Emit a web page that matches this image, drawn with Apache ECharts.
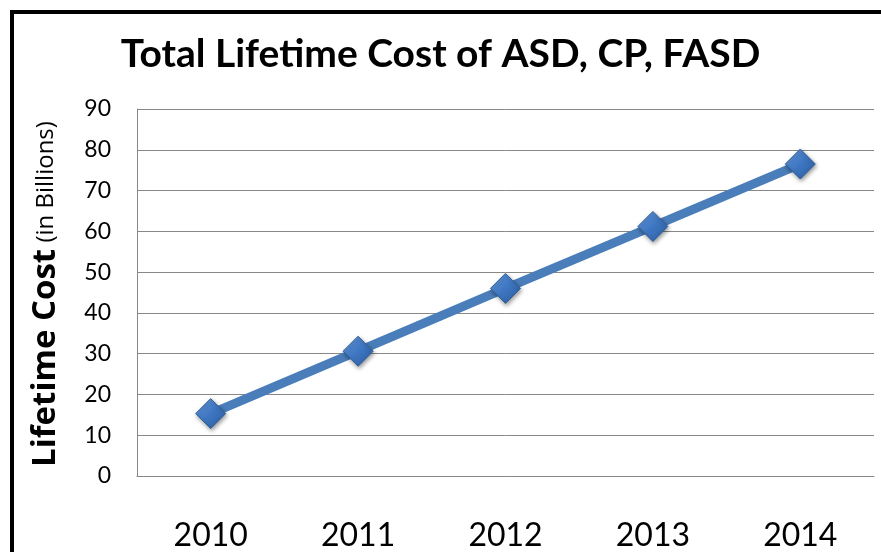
<!DOCTYPE html>
<html>
<head>
<meta charset="utf-8">
<script src="https://cdn.jsdelivr.net/npm/echarts@6/dist/echarts.min.js"></script>
<style>
  html, body { margin: 0; padding: 0; background: #fff; }
  #chart { width: 881px; height: 552px; }
</style>
</head>
<body>
<div id="chart"></div>
<script>
var years = ['2010', '2011', '2012', '2013', '2014'];
var lifetimeCost = [15.3, 30.6, 46.0, 61.2, 76.5];
var yTicks = { min: 0, max: 90, interval: 10 };

var chart = echarts.init(document.getElementById('chart'));
var fontFamily = 'Lato';
var nameFont = '"Open Sans"';

var option = {
  backgroundColor: '#fff',
  animation: false,
  title: {
    text: 'Total Lifetime Cost of ASD, CP, FASD',
    left: 'center',
    top: 30,
    textStyle: { fontFamily: fontFamily, fontSize: 39, fontWeight: 'bold', color: '#000' }
  },
  graphic: [{
    type: 'rect',
    shape: { x: 12, y: 12, width: 900, height: 600 },
    style: { fill: 'none', stroke: '#000', lineWidth: 4 },
    silent: true
  }, {
    // y axis title, bold part plus regular part
    type: 'text',
    x: 46,
    y: 294,
    rotation: Math.PI / 2,
    silent: true,
    style: {
      text: '{b|Lifetime Cost}{n| (in Billions)}',
      align: 'center',
      verticalAlign: 'middle',
      rich: {
        b: { fontFamily: nameFont, fontSize: 33, fontWeight: 'bold', fill: '#000' },
        n: { fontFamily: nameFont, fontSize: 24, fill: '#000' }
      }
    }
  }],
  grid: { left: 137, top: 109, width: 737, height: 367, containLabel: false },
  xAxis: {
    type: 'category',
    data: years,
    axisLine: { show: true, lineStyle: { color: '#888', width: 1 } },
    axisTick: { show: false },
    axisLabel: { fontFamily: fontFamily, fontSize: 32, color: '#000', margin: 44 }
  },
  yAxis: {
    type: 'value',
    min: yTicks.min,
    max: yTicks.max,
    interval: yTicks.interval,
    axisLine: { show: true, lineStyle: { color: '#888', width: 1 } },
    axisTick: { show: false },
    splitLine: { show: true, lineStyle: { color: '#888', width: 1 } },
    axisLabel: { fontFamily: fontFamily, fontSize: 23, color: '#000', margin: 26 }
  },
  series: [{
    type: 'line',
    data: lifetimeCost,
    symbol: 'diamond',
    symbolSize: 30,
    lineStyle: { color: '#4A7EBB', width: 9 },
    itemStyle: {
      color: new echarts.graphic.LinearGradient(0, 0, 1, 1, [
        { offset: 0, color: '#6A9EE0' },
        { offset: 0.5, color: '#3E76C2' },
        { offset: 1, color: '#2C5E9E' }
      ]),
      borderColor: '#2F5F98',
      borderWidth: 1,
      shadowBlur: 4,
      shadowColor: 'rgba(0,0,0,0.4)',
      shadowOffsetX: 1,
      shadowOffsetY: 2
    }
  }]
};
chart.setOption(option);
</script>
</body>
</html>
